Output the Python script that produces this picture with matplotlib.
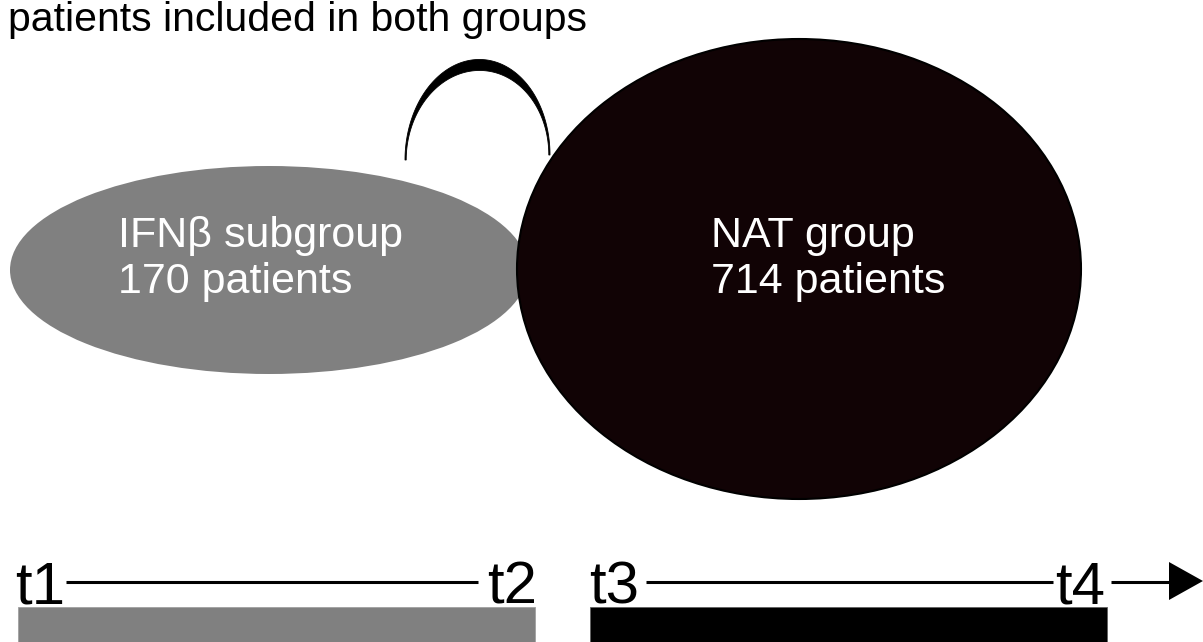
import numpy as np
import matplotlib
matplotlib.use("Agg")
import matplotlib.pyplot as plt
from matplotlib.patches import Ellipse, Rectangle, Polygon

# ---- content ----
title_text = "patients included in both groups"
groups = ["IFNβ subgroup", "NAT group"]
patients = [170, 714]
time_labels = ["t1", "t2", "t3", "t4"]
group_colors = ["#808080", "#110305"]
bar_colors = ["#808080", "#000000"]

plt.rcParams['font.family'] = ['Liberation Sans', 'DejaVu Sans']

W, H = 1203, 642
fig = plt.figure(figsize=(W / 100, H / 100), dpi=100)
ax = fig.add_axes([0, 0, 1, 1])
ax.set_xlim(0, W)
ax.set_ylim(H, 0)
ax.axis('off')

PX = 0.72  # px -> pt at dpi 100

# ---- ellipses (layout) ----
ell_geo = [  # (cx, cy, width, height)
    (269, 270, 518, 208),
    (799, 269, 564, 460),
]
ax.add_patch(Ellipse(ell_geo[0][:2], ell_geo[0][2], ell_geo[0][3],
                     facecolor=group_colors[0], edgecolor='none', zorder=1))
ax.add_patch(Ellipse(ell_geo[1][:2], ell_geo[1][2], ell_geo[1][3],
                     facecolor=group_colors[1], edgecolor='black', lw=1.5, zorder=2))

# ---- crescent arc joining the groups ----
t = np.linspace(0, np.pi, 300)
xl, yl, xr, yr = 405, 160, 550, 155
cxa = (xl + xr) / 2
a = (xr - xl) / 2
base = yl + (yr - yl) * (1 - np.cos(t)) / 2
outer = np.column_stack([cxa - a * np.cos(t), base - 98 * np.sin(t)])
inner = np.column_stack([cxa - (a - 1.2) * np.cos(t), base - 87 * np.sin(t)])
ax.add_patch(Polygon(np.vstack([outer, inner[::-1]]), closed=True,
                     facecolor='black', edgecolor='black', lw=0.6, zorder=3))

# ---- texts ----
ax.text(8, 31, title_text, fontsize=41 * PX, color='black',
        ha='left', va='baseline', zorder=5)
label_x = [118, 711]
for gx, g, n in zip(label_x, groups, patients):
    ax.text(gx, 247, g, fontsize=43 * PX, color='white', ha='left', va='baseline', zorder=5)
    ax.text(gx, 293, f"{n} patients", fontsize=43 * PX, color='white',
            ha='left', va='baseline', zorder=5)

# ---- timeline ----
tl_y = 582
tfs = 60 * PX
ax.text(15, 603, time_labels[0], fontsize=tfs, ha='left', va='baseline')
ax.text(537, 603, time_labels[1], fontsize=tfs, ha='right', va='baseline')
ax.text(589, 603, time_labels[2], fontsize=tfs, ha='left', va='baseline')
ax.text(1105, 603, time_labels[3], fontsize=tfs, ha='right', va='baseline')
ax.plot([66, 478], [tl_y, tl_y], color='black', lw=2.2, solid_capstyle='butt')
ax.plot([646, 1053], [tl_y, tl_y], color='black', lw=2.2, solid_capstyle='butt')
ax.plot([1111, 1172], [tl_y, tl_y], color='black', lw=2.2, solid_capstyle='butt')
ax.add_patch(Polygon([(1169, 562), (1169, 600), (1203, 581)], closed=True,
                     facecolor='black', edgecolor='none'))

ax.add_patch(Rectangle((18, 607), 517, 40, facecolor=bar_colors[0],
                       edgecolor='#a0a0a0', lw=0.6))
ax.add_patch(Rectangle((590, 607), 517, 40, facecolor=bar_colors[1],
                       edgecolor='#606060', lw=0.6))

fig.savefig("out.png", dpi=100)
